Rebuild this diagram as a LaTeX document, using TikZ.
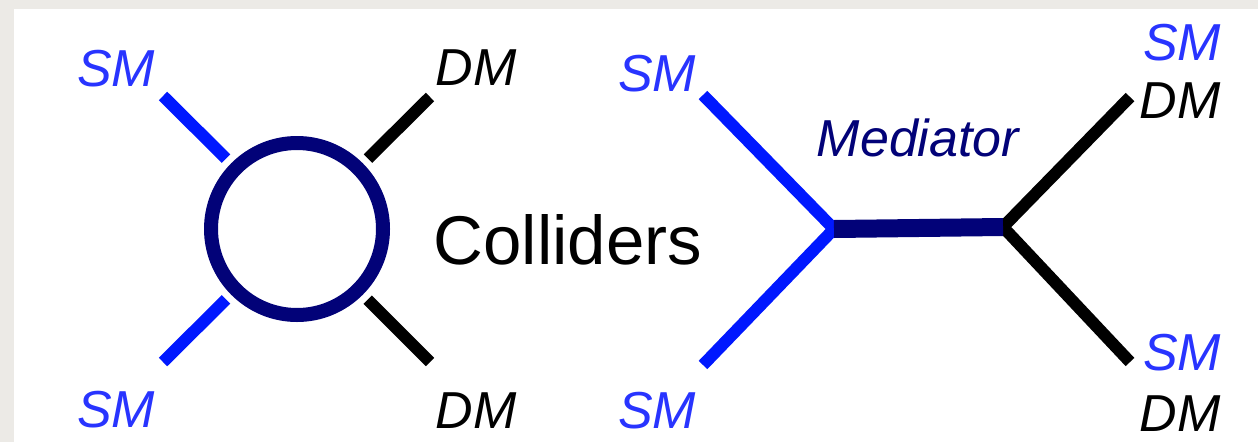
\documentclass[tikz,border=0pt]{standalone}
\usepackage{fontspec}
\setmainfont{Liberation Sans}
\definecolor{bggray}{HTML}{ECEAE6}
\definecolor{smblue}{RGB}{0,24,255}
\definecolor{smtext}{RGB}{40,52,255}
\definecolor{navy}{RGB}{2,2,120}
\tikzset{
  smline/.style={draw=smblue, line width=12pt},
  dmline/.style={draw=black, line width=12pt},
  medline/.style={draw=navy, line width=18pt},
  smlabel/.style={text=smtext, font=\fontsize{52}{52}\selectfont\itshape, inner sep=0pt},
  dmlabel/.style={text=black, font=\fontsize{52}{52}\selectfont\itshape, inner sep=0pt},
  medlabel/.style={text=navy, font=\fontsize{52}{52}\selectfont\itshape, inner sep=0pt},
  blob/.style={circle, draw=navy, line width=14pt, minimum size=172pt, inner sep=0pt},
  biglabel/.style={text=black, font=\fontsize{69}{69}\selectfont, inner sep=0pt}
}
\begin{document}
\begin{tikzpicture}[x=1pt,y=-1pt]
\useasboundingbox (0,0) rectangle (1258,442);
\fill[bggray] (0,0) rectangle (1258,442);
\fill[white] (14,9) rectangle (1258,442);

% left diagram
\node[blob] (blob) at (297,229) {};
\coordinate (lsm1) at (163,96);
\coordinate (lsm2) at (163,362);
\coordinate (ldm1) at (430,97);
\coordinate (ldm2) at (430,362);
\draw[smline, shorten >=7pt] (lsm1) -- (blob);
\draw[smline, shorten >=7pt] (lsm2) -- (blob);
\draw[dmline, shorten >=7pt] (ldm1) -- (blob);
\draw[dmline, shorten >=7pt] (ldm2) -- (blob);
\node[smlabel] (tsm1) at (116,69) {SM};
\node[smlabel] (tsm2) at (116,410) {SM};
\node[dmlabel] (tdm1) at (476,68) {DM};
\node[dmlabel] (tdm2) at (476,411) {DM};
\node[biglabel] (coll) at (568,240) {Colliders};

% right diagram
\coordinate (v1) at (834,229);
\coordinate (v2) at (1003,227);
\coordinate (rsm1) at (703,95);
\coordinate (rsm2) at (703,365);
\coordinate (rdm1) at (1130,97);
\coordinate (rdm2) at (1130,362);
\draw[smline] (rsm1) -- (v1) -- (rsm2);
\draw[dmline] (rdm1) -- (v2) -- (rdm2);
\draw[medline] (v1) -- (v2);
\node[medlabel] (med) at (918,138) {Mediator};
\node[smlabel] (rtsm1) at (657,74) {SM};
\node[smlabel] (rtsm2) at (657,411) {SM};
\node[smlabel] (rtsm3) at (1182,43) {SM};
\node[dmlabel] (rtdm3) at (1180,101) {DM};
\node[smlabel] (rtsm4) at (1182,353) {SM};
\node[dmlabel] (rtdm4) at (1180,414) {DM};
\end{tikzpicture}
\end{document}
